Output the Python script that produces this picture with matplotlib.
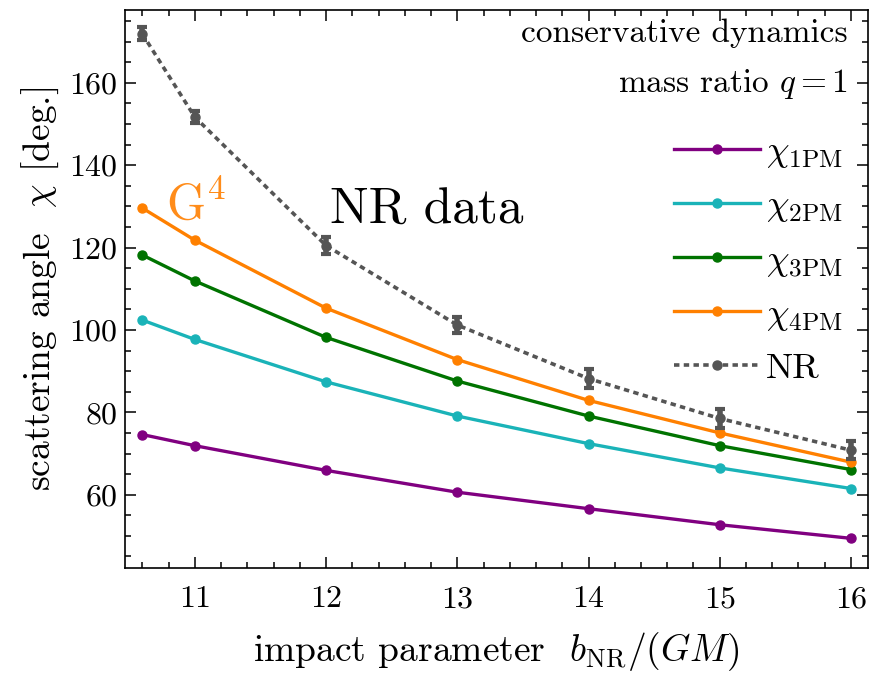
import matplotlib
matplotlib.use("Agg")
import matplotlib.pyplot as plt

plt.rcParams['font.family'] = 'serif'
plt.rcParams['font.serif'] = ['cmr10']
plt.rcParams['mathtext.fontset'] = 'cm'
plt.rcParams['axes.formatter.use_mathtext'] = True

# --- data ---
b = [10.6, 11, 12, 13, 14, 15, 16]
chi_1pm = [74.6, 71.9, 65.9, 60.6, 56.6, 52.7, 49.4]
chi_2pm = [102.4, 97.7, 87.4, 79.1, 72.4, 66.5, 61.5]
chi_3pm = [118.2, 111.9, 98.2, 87.6, 79.1, 71.9, 66.1]
chi_4pm = [129.6, 121.8, 105.3, 92.8, 82.9, 75.0, 67.9]
chi_nr = [171.9, 151.7, 120.5, 101.2, 88.2, 78.5, 70.8]
chi_nr_err = [1.6, 1.5, 2.0, 2.0, 2.2, 2.2, 2.2]

labels = [r'$\chi_{\rm 1PM}$', r'$\chi_{\rm 2PM}$', r'$\chi_{\rm 3PM}$', r'$\chi_{\rm 4PM}$']
colors = ['#800080', '#1ab3b8', '#007300', '#ff8000']
series = [chi_1pm, chi_2pm, chi_3pm, chi_4pm]

fig = plt.figure(figsize=(8.71, 6.79), dpi=100)
ax = fig.add_axes([0.1432, 0.1635, 0.8534, 0.8218])

for y, c, lab in zip(series, colors, labels):
    ax.plot(b, y, '-o', color=c, lw=2.4, ms=6.5, label=lab)

# NR: dotted line + thick error bars (legend shows only the line)
ax.plot(b, chi_nr, 'o', color='#555555', ms=6.5, ls=(0, (1.5, 1.2)), lw=2.6, label='NR')
ax.errorbar(b, chi_nr, yerr=chi_nr_err, fmt='none', ecolor='#555555',
            elinewidth=4, capsize=3.5, capthick=3)

ax.set_xlim(10.466, 16.13)
ax.set_ylim(42.2, 177.7)
ax.set_xticks([11, 12, 13, 14, 15, 16])
ax.set_yticks([60, 80, 100, 120, 140, 160])
ax.set_xticks([x / 10 for x in range(106, 162, 2)], minor=True)
ax.set_yticks(list(range(45, 180, 5)), minor=True)
ax.tick_params(which='both', direction='in', top=True, right=True, labelsize=23, width=1.1)
ax.tick_params(which='major', length=8)
ax.tick_params(which='minor', length=4)
ax.tick_params(axis='x', which='major', pad=13)
ax.tick_params(axis='y', which='major', pad=5)
for s in ax.spines.values():
    s.set_linewidth(1.2)

ax.set_xlabel(r'impact parameter  $b_{\rm NR}/(GM)$', fontsize=27, labelpad=12)
ax.set_ylabel(r'scattering angle  $\chi$ [deg.]', fontsize=27, labelpad=6)

ax.text(0.973, 0.958, 'conservative dynamics', transform=ax.transAxes,
        ha='right', va='center', fontsize=24)
ax.text(0.973, 0.868, r'mass ratio $q = 1$', transform=ax.transAxes,
        ha='right', va='center', fontsize=24)

ax.text(10.78, 130.5, r'G$^4$', color='#ff8c1a', fontsize=36, ha='left', va='center')
ax.text(12.03, 129.0, 'NR data', color='black', fontsize=37, ha='left', va='center')

leg = ax.legend(loc='upper right', bbox_to_anchor=(0.985, 0.80), frameon=False,
                fontsize=26, handlelength=2.4, numpoints=1, labelspacing=0.55,
                handletextpad=0.15, borderaxespad=0.2, borderpad=0.2)

fig.savefig('out.png', dpi=100)
